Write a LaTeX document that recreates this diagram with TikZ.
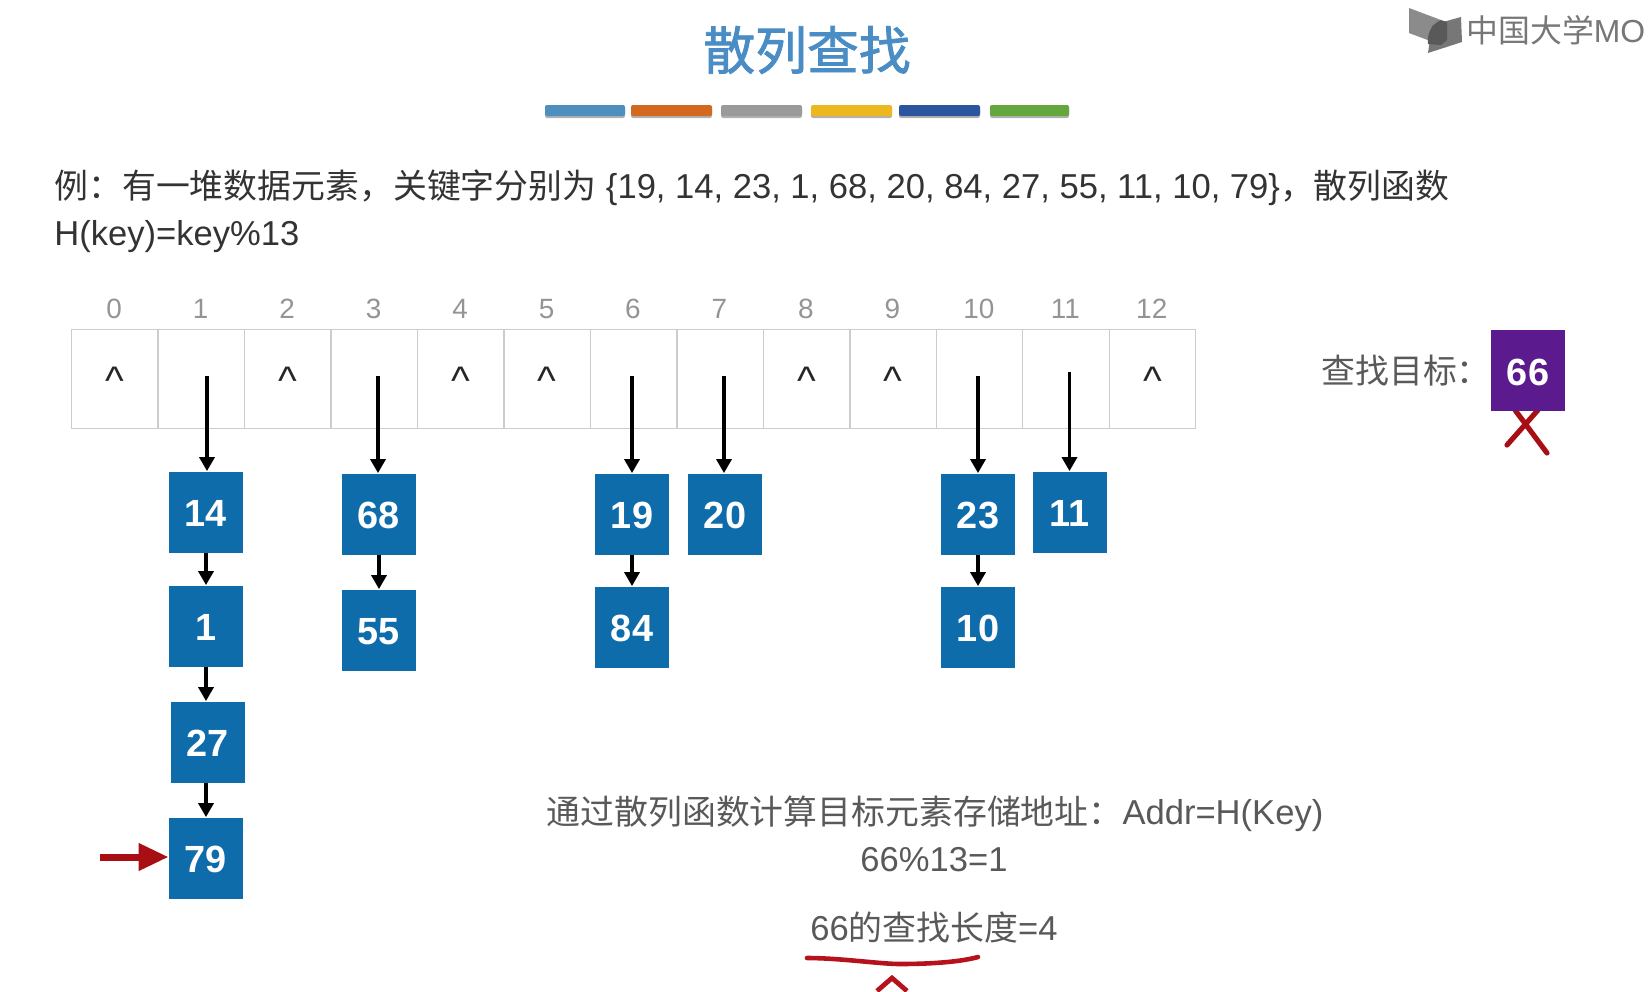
\documentclass[tikz,border=0pt]{standalone}
\usepackage{fontspec}
\setmainfont{Liberation Sans}
\newfontfamily\cjk{Noto Sans CJK SC}
\newfontfamily\cjktitle[FakeBold=1.6]{Noto Sans CJK SC}
\usetikzlibrary{arrows.meta,calc}
\definecolor{boxblue}{HTML}{0F6CAB}
\definecolor{boxpurple}{HTML}{5B1A8E}
\definecolor{titleblue}{HTML}{4A8CC4}
\definecolor{redmark}{HTML}{A80F14}
\definecolor{inkred}{HTML}{B5121B}
\definecolor{logogray}{HTML}{777777}
\tikzset{
  cell/.style={draw=black!20,line width=.7pt,minimum width=43.23bp,minimum height=49.5bp,inner sep=0pt,anchor=north west},
  idx/.style={text=black!42,font=\fontsize{14}{14}\selectfont,inner sep=0pt,text height=10pt,text depth=0pt},
  nul/.style={text=black!85,font=\fontsize{20}{20}\selectfont,inner sep=0pt,anchor=base},
  valbox/.style={fill=boxblue,text=white,font=\fontsize{19}{19}\selectfont\bfseries,minimum width=37bp,minimum height=40.5bp,inner sep=0pt,text height=14.9pt,text depth=0pt},
  link/.style={-{Triangle[length=7pt,width=7.5pt]},line width=1.7pt,black,shorten >=0pt},
  bar/.style={rounded corners=1pt},
  shade/.style={fill=black!30,rounded corners=1pt},
  body/.style={inner sep=0pt,text=black!80,font=\fontsize{17.35}{17.35}\selectfont},
  note/.style={inner sep=0pt,text=black!65,font=\fontsize{17.35}{17.35}\selectfont},
}
\newcommand{\cjktext}[1]{{\fontsize{17}{17}\selectfont\cjk #1}}
\begin{document}
\begin{tikzpicture}[x=.5bp,y=-.5bp]
\useasboundingbox (0,0) rectangle (1649,991);
% title
\node[inner sep=0pt,text=titleblue,font=\fontsize{26}{26}\selectfont\cjktitle] (title) at (807,50) {散列查找};
% colour bars
\foreach \a/\b/\c in {545/625/4F8FC0,631/712/D2691F,721/802/9A9A9A,811/892/EDB81E,899/980/2C55A0,990/1069/62A83C}{
  \definecolor{barcol}{HTML}{\c}
  \fill[shade] (\a,107) rectangle (\b,118);
  \fill[bar,barcol] (\a,105) rectangle (\b,116);
}
% logo
\fill[logogray!85] (1409,8) -- (1441,20) -- (1441,45) -- (1409,33) -- cycle;
\fill[logogray] (1432,25) -- (1461,17) -- (1462,42) -- (1428,53) -- cycle;
\fill[black!65] (1441,20) .. controls (1430,25) and (1427,35) .. (1428,44) -- (1441,45) -- (1447,40) -- (1447,22) -- cycle;
\node[inner sep=0pt,anchor=west,text=logogray,font=\fontsize{16}{16}\selectfont] (logo) at (1466,30) {\cjk 中国大学\rmfamily MO};
% question text
\node[body,anchor=west] (line1) at (54,188) {\cjktext{例^^^^ff1a有一堆数据元素^^^^ff0c关键字分别为} \{19, 14, 23, 1, 68, 20, 84, 27, 55, 11, 10, 79\}\cjktext{^^^^ff0c散列函数}};
\node[body,anchor=west] (line2) at (54,237) {H(key)=key\%13};
% hash table
\foreach \i in {0,...,12}{
  \pgfmathsetmacro{\xx}{71+86.46*\i}
  \pgfmathsetmacro{\xc}{\xx+43.23}
  \node[cell] (c\i) at (\xx,329) {};
  \node[idx] (n\i) at (\xc,309) {\i};
}
\foreach \i in {0,2,4,5,8,9,12}{
  \node[nul] (h\i) at ([yshift=-7.75bp]c\i.center) {\textasciicircum};
}
% boxes
\node[valbox] (b14) at (206,512) {14};
\node[valbox] (b1)  at (206,626) {1};
\node[valbox] (b27) at (207.5,742) {27};
\node[valbox] (b79) at (206,858) {79};
\node[valbox] (b68) at (379,514) {68};
\node[valbox] (b55) at (379,630) {55};
\node[valbox] (b19) at (632,514) {19};
\node[valbox] (b84) at (632,627) {84};
\node[valbox] (b20) at (725,514) {20};
\node[valbox] (b23) at (978,514) {23};
\node[valbox] (b10) at (978,627) {10};
\node[valbox] (b11) at (1069.5,512) {11};
% pointers
\coordinate (p1) at (207,376);
\coordinate (p3) at (378,376);
\coordinate (p6) at (632,376);
\coordinate (p7) at (724,376);
\coordinate (p10) at (978,376);
\coordinate (p11) at (1069.5,372);
\draw[link] (p1) -- (b14.north -| p1);
\draw[link] (p3) -- (b68.north -| p3);
\draw[link] (p6) -- (b19.north);
\draw[link] (p7) -- (b20.north -| p7);
\draw[link] (p10) -- (b23.north);
\draw[link] (p11) -- (b11.north -| p11);
\draw[link] (b14) -- (b1);
\draw[link] (b1) -- (b27.north -| b1);
\draw[link] (b27.south -| b1) -- (b79);
\draw[link] (b68) -- (b55);
\draw[link] (b19) -- (b84);
\draw[link] (b23) -- (b10);
% red pointer
\coordinate (rp) at (100,857);
\draw[-{Triangle[length=15pt,width=13pt]},line width=3.5pt,redmark] (rp) -- (b79.west |- rp);
% target
\coordinate (x1) at (1507,445);
\coordinate (x2) at (1538,410);
\coordinate (x3) at (1515,410);
\coordinate (x4) at (1547,453);
\draw[redmark,line width=2.6pt,line cap=round] (x1) -- (x2) (x3) -- (x4);
\node[fill=boxpurple,text=white,font=\fontsize{19}{19}\selectfont\bfseries,minimum width=37bp,minimum height=40.5bp,inner sep=0pt,text height=14.9pt,text depth=0pt] (t66) at (1528,370.5) {66};
\node[note,anchor=west] (tlabel) at (1321,371) {\cjktext{查找目标^^^^ff1a}};
% notes
\node[note] (n1) at (935,813.5) {\cjktext{通过散列函数计算目标元素存储地址^^^^ff1a}Addr=H(Key)};
\node[note] (n2) at (934,860) {66\%13=1};
\node[note] (n3) at (934,928) {66\cjktext{的查找长度}=4};
% ink
\coordinate (u0) at (807,958);
\coordinate (u1) at (978,957);
\draw[inkred,line width=2.3pt,line cap=round] (u0) .. controls (840,958) and (880,964) .. (900,964) .. controls (930,964) and (960,962) .. (u1);
\coordinate (k0) at (877,991);
\coordinate (k1) at (892,978);
\coordinate (k2) at (907,991);
\draw[inkred,line width=2.4pt] (k0) -- (k1) -- (k2);
\end{tikzpicture}
\end{document}
